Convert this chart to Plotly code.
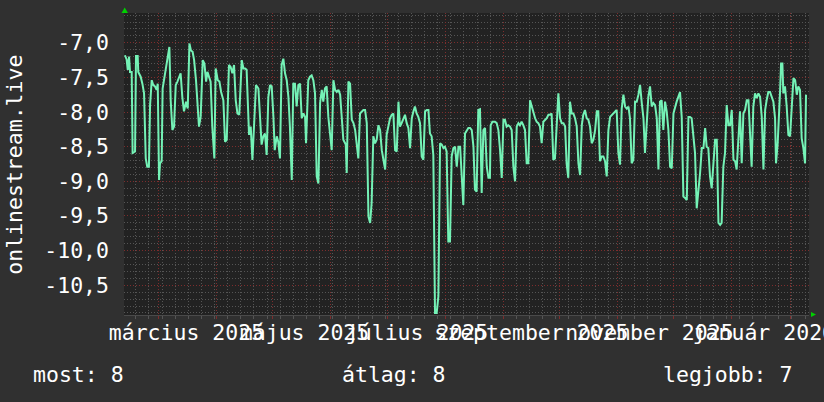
import pandas as pd
import plotly.graph_objects as go

# ---- data (day offsets are days since 2025-03-01) ----
base_date = "2025-03-01"

days = [
    -17.8, -16.9, -16.3, -15.6, -15.1, -14.2, -13.7, -12.4, -11.9, -11.0, -10.7, -9.4, -8.5, -7.6, -6.7, -5.9, -5.0, -4.4,
    -3.5, -2.7, -1.8, -0.9, -0.3, 0.4, 0.9, 1.8, 2.3, 3.2, 4.1, 5.0, 5.9, 6.6, 7.5, 8.4, 9.3, 10.2, 11.0, 11.9, 12.8, 13.7,
    14.8, 15.7, 16.6, 17.4, 18.3, 19.1, 20.1, 20.8, 21.7, 22.6, 23.7, 24.6, 25.5, 26.2, 27.1, 27.9, 28.8, 29.9, 30.6, 31.7,
    32.6, 33.5, 34.7, 35.6, 36.5, 37.7, 38.6, 39.5, 40.4, 41.3, 42.2, 43.2, 44.5, 45.4, 46.3, 47.1, 48.4, 49.3, 50.2, 51.1,
    52.1, 53.4, 54.3, 55.1, 56.0, 56.9, 57.8, 58.7, 59.6, 60.5, 61.4, 62.1, 63.2, 64.0, 64.9, 65.8, 66.7, 67.6, 68.5, 69.4,
    70.2, 71.2, 72.0,
    72.9, 73.8, 74.7, 75.6, 76.5, 77.4, 78.3, 78.8, 79.5, 80.0, 80.9, 81.8, 82.7, 83.6, 84.5, 85.4, 86.3, 87.2, 88.0, 88.9,
    89.8, 90.7, 91.6, 92.5, 93.4, 94.3, 95.2, 96.1, 97.0, 97.8, 98.7, 100.0, 100.5, 101.4, 102.3, 103.2, 104.1, 105.0,
    105.8, 106.7, 107.6, 108.5, 109.4, 110.3, 111.2, 112.1, 113.0, 113.8, 114.7, 115.6, 116.5, 117.4, 118.3, 119.2, 120.1,
    121.0, 121.8, 122.7, 123.6, 124.5, 125.4, 126.3, 127.2, 128.1, 128.9, 129.8, 130.7, 131.6, 132.5, 133.4, 134.3, 135.2,
    136.1, 136.9, 137.8, 138.7, 139.6, 140.5, 141.4, 142.3, 143.2, 144.1, 144.9, 145.8, 146.7, 147.6, 148.5, 149.4, 150.3,
    151.2, 152.1, 152.9, 153.8, 154.7, 155.6, 156.5, 157.4, 158.3, 159.2, 160.1, 161.0, 161.8, 162.7, 163.6, 164.5, 165.4,
    166.3, 167.2, 168.1,
    168.9, 169.8, 170.7, 171.6, 172.5, 173.4, 174.3, 175.2, 176.1, 176.9, 177.3, 178.2, 179.6, 180.5, 181.4, 182.3, 183.2,
    184.1, 184.9, 185.8, 186.7, 187.6, 188.5, 189.4, 190.3, 191.2, 192.1, 192.9, 193.8, 194.7, 195.6, 196.5, 197.4, 198.3,
    199.2, 200.1, 201.0, 201.8, 202.7, 203.6, 204.5, 205.4, 206.3, 207.2, 208.1, 208.9, 209.8, 210.7, 211.6, 212.5, 213.4,
    214.3, 215.2, 216.1, 217.0, 217.8, 218.7, 219.6, 220.5, 221.4, 222.3, 223.2, 224.1, 225.0, 225.9, 226.7, 227.6, 228.5,
    229.4, 230.3, 231.2, 232.1, 233.0, 233.9, 234.7, 235.6, 236.5, 237.4, 238.3, 239.2, 240.1, 241.0, 241.9, 242.7, 243.6,
    244.5, 245.4, 246.3, 247.2, 248.1, 249.0, 249.9, 250.8, 251.6, 252.5, 253.4, 254.3, 255.2, 256.1, 257.0, 257.9, 258.8,
    259.6, 260.5, 261.4,
    262.3, 263.2, 264.1, 265.0, 265.9, 266.8, 267.6, 268.5, 269.4, 270.3, 271.2, 272.1, 273.0, 273.9, 274.8, 275.6, 276.5,
    277.4, 278.3, 279.2, 280.1, 281.0, 281.9, 282.8, 283.6, 284.5, 285.4, 286.3, 287.2, 288.1, 289.0, 289.9, 290.8, 291.7,
    292.5, 293.4, 294.3, 295.2, 296.1, 297.0, 297.9, 298.8, 299.7, 300.5, 301.4, 302.3, 303.2, 304.1, 305.0, 305.9, 306.8,
    307.7, 308.5, 309.4, 310.3, 311.2, 312.1, 313.0, 313.9, 314.8, 315.7, 316.5, 317.4, 318.3, 319.2, 320.1, 321.0, 321.9,
    322.8, 323.7, 324.5, 325.4, 326.3, 327.2, 328.1, 329.0, 329.5, 330.4, 331.1, 331.7, 332.2, 332.9, 333.4, 334.3, 335.2,
    336.1, 337.0, 337.9, 338.8, 339.7, 340.6, 341.4, 342.3, 343.2, 344.1, 345.0, 345.5,
]

values = [
    -7.18, -7.24, -7.39, -7.20, -7.42, -7.42, -8.59, -8.57, -7.19, -7.19, -7.42, -7.49, -7.59, -7.73, -8.67, -8.79, -8.79,
    -7.90, -7.54, -7.61, -7.63, -7.68, -7.59, -8.98, -8.74, -8.71, -7.66, -7.51, -7.39, -7.25, -7.06, -7.83, -8.26, -8.21,
    -7.61, -7.56, -7.49, -7.44, -7.78, -7.99, -7.85, -7.95, -7.01, -7.11, -7.13, -7.25, -7.54, -7.92, -8.21, -8.07, -7.25,
    -7.30, -7.56, -7.42, -7.49, -7.56, -8.21, -8.67, -7.37, -7.54, -7.56, -7.71, -7.83, -8.43, -8.40, -7.32, -7.35, -7.44,
    -7.32, -7.83, -8.02, -8.04, -7.25, -7.37, -7.37, -7.39, -8.33, -8.21, -8.69, -8.21, -7.61, -7.66, -8.07, -8.47, -8.35,
    -8.31, -8.62, -7.78, -7.61, -7.63, -8.07, -8.55, -8.35, -8.43, -8.67, -7.32, -7.23, -7.44, -7.54, -7.78, -8.21, -8.98,
    -7.59,
    -7.59, -7.92, -7.61, -7.59, -8.09, -8.02, -8.07, -8.45, -7.73, -7.54, -7.49, -7.47, -7.54, -7.73, -8.93, -9.03, -7.87,
    -7.68, -7.85, -7.66, -7.63, -8.07, -8.31, -8.55, -7.54, -7.68, -7.71, -7.68, -7.75, -8.07, -8.40, -8.47, -8.88, -7.56,
    -7.59, -8.11, -8.16, -8.26, -8.45, -8.67, -8.02, -7.99, -7.97, -7.97, -8.16, -9.51, -9.60, -9.31, -8.35, -8.45, -8.40,
    -8.19, -8.26, -8.55, -8.67, -8.83, -8.33, -8.21, -8.09, -8.04, -8.02, -8.55, -8.57, -7.85, -8.21, -8.16, -8.09, -8.04,
    -8.16, -8.23, -8.52, -8.09, -7.99, -7.92, -8.02, -8.07, -8.16, -8.64, -8.69, -7.99, -7.97, -7.97, -8.31, -8.35, -8.62,
    -10.90, -10.90, -10.66, -8.45, -8.47, -8.52, -8.50, -8.57, -9.87, -9.87, -8.64, -8.52, -8.50, -8.79, -8.50, -8.50,
    -8.98, -9.34, -8.31, -8.26, -8.23, -8.23, -8.26, -8.50,
    -9.12, -9.15, -7.97, -7.96, -9.17, -8.26, -8.23, -8.79, -8.95, -8.95, -8.19, -8.14, -8.14, -8.16, -8.26, -8.55, -8.95,
    -8.11, -8.11, -8.21, -8.19, -8.21, -8.26, -8.79, -9.00, -8.21, -8.16, -8.19, -8.14, -8.19, -8.26, -8.74, -8.74, -7.83,
    -7.92, -8.04, -8.09, -8.14, -8.16, -8.21, -8.45, -8.14, -8.11, -8.09, -8.04, -8.04, -8.02, -8.69, -8.67, -8.11, -7.73,
    -8.09, -8.16, -8.16, -8.21, -8.74, -8.95, -7.85, -8.02, -8.02, -8.09, -8.21, -8.74, -8.91, -8.19, -8.04, -7.97, -8.09,
    -8.11, -8.21, -8.45, -8.40, -8.26, -7.99, -7.99, -8.71, -8.64, -8.64, -8.71, -8.93, -8.26, -8.07, -8.04, -8.02, -7.99,
    -7.97, -8.59, -8.76, -7.95, -7.75, -7.92, -7.95, -7.92, -8.09, -8.74, -8.69, -7.85, -7.85, -7.75, -7.61, -7.87, -8.09,
    -8.59, -8.16, -7.78,
    -7.63, -7.92, -7.87, -7.90, -8.09, -8.83, -7.85, -7.83, -8.26, -7.85, -7.99, -8.26, -8.79, -8.81, -8.02, -7.92, -7.85,
    -7.78, -7.71, -8.07, -9.22, -9.24, -9.27, -8.07, -8.07, -8.09, -8.35, -8.59, -9.39, -9.17, -8.88, -8.52, -8.52, -8.23,
    -8.50, -8.52, -8.93, -9.10, -8.67, -8.40, -8.40, -9.60, -9.63, -9.60, -8.79, -8.59, -7.90, -8.19, -8.19, -7.97, -8.69,
    -8.71, -8.83, -8.35, -7.99, -8.74, -8.02, -7.97, -7.83, -7.83, -8.35, -8.79, -7.92, -7.73, -7.80, -7.73, -7.78, -8.07,
    -8.83, -7.97, -7.83, -7.71, -7.71, -7.78, -7.85, -8.09, -8.74, -8.45, -7.85, -7.68, -7.30, -7.30, -7.73, -7.63, -7.92,
    -8.33, -8.35, -7.83, -7.51, -7.54, -7.75, -7.63, -7.68, -8.38, -8.52, -8.74, -7.75,
]

x_range_days = [-18.3, 347.1]
ytick_values = [-7.0, -7.5, -8.0, -8.5, -9.0, -9.5, -10.0, -10.5]
ytick_labels = ["-7,0", "-7,5", "-8,0", "-8,5", "-9,0", "-9,5", "-10,0", "-10,5"]
y_range = [-10.93, -6.57]
month_label_dates = ["2025-03-16", "2025-05-18", "2025-07-17", "2025-09-16", "2025-11-18", "2026-01-18"]
month_labels = ["március 2025", "május 2025", "július 2025", "szeptember 2025", "november 2025", "január 2026"]
series_name = "onlinestream.live"
stat_texts = ["most: 8", "átlag: 8", "legjobb: 7"]

# ---- build ----
n = min(len(days), len(values))
base = pd.Timestamp(base_date)
x_dates = [base + pd.to_timedelta(d, unit="D") for d in days[:n]]
x_rng = [base + pd.to_timedelta(d, unit="D") for d in x_range_days]

FONT = "DejaVu Sans Mono"
FS = 21.5
MAJOR = "rgba(125,45,45,1)"
MINOR = "rgba(85,85,85,1)"
DASH = "1px,2px"

fig = go.Figure()
fig.add_trace(go.Scatter(
    x=x_dates, y=values[:n], mode="lines",
    line=dict(color="#74f2b6", width=2),
    name=series_name, showlegend=False, hoverinfo="skip",
))
# empty trace so the label axis (x2) gets drawn
fig.add_trace(go.Scatter(x=[], y=[], xaxis="x2", yaxis="y", showlegend=False, hoverinfo="skip"))

fig.update_layout(
    width=824, height=402,
    margin=dict(l=124, r=15, t=13, b=87, autoexpand=False),
    paper_bgcolor="#303030", plot_bgcolor="#222222",
    font=dict(family=FONT, size=FS, color="#ffffff"),
    showlegend=False,
    xaxis=dict(
        type="date", range=x_rng, automargin=False,
        tick0="2025-03-01", dtick="M1",
        showticklabels=False,
        showgrid=True, gridcolor=MAJOR, griddash=DASH, gridwidth=1,
        ticks="outside", ticklen=3, tickcolor=MAJOR,
        minor=dict(tick0="2025-02-17", dtick=7 * 86400000, showgrid=True,
                   gridcolor=MINOR, griddash=DASH, gridwidth=1,
                   ticks="outside", ticklen=3, tickcolor=MINOR),
        showline=True, linecolor="#4a4a4a", linewidth=1,
        zeroline=False, fixedrange=True,
    ),
    xaxis2=dict(
        type="date", range=x_rng, overlaying="x", anchor="y", side="bottom", automargin=False,
        tickmode="array", tickvals=month_label_dates, ticktext=month_labels, tickangle=0,
        ticklabeloverflow="allow",
        showgrid=False, showline=False, ticks="", zeroline=False,
        tickfont=dict(family=FONT, size=FS, color="#ffffff"),
        ticklabelstandoff=2,
    ),
    yaxis=dict(
        range=y_range, automargin=False,
        tickmode="array", tickvals=ytick_values, ticktext=ytick_labels,
        showgrid=True, gridcolor=MAJOR, griddash=DASH, gridwidth=1,
        minor=dict(dtick=0.1, showgrid=True, gridcolor=MINOR, griddash=DASH, gridwidth=1),
        zeroline=False, showline=False, ticks="",
        tickfont=dict(family=FONT, size=FS, color="#ffffff"),
        ticklabelstandoff=14,
    ),
)

# axis arrows (RRD style)
fig.add_shape(type="path", xref="paper", yref="paper",
              path="M -0.0036 1.0 L 0.0058 1.0 L 0.0010 1.0182 Z",
              fillcolor="#00d000", line=dict(width=0))
fig.add_shape(type="path", xref="paper", yref="paper",
              path="M 1.0029 0.0099 L 1.0029 -0.0066 L 1.0102 0.0017 Z",
              fillcolor="#00d000", line=dict(width=0))

# y title
fig.add_annotation(text=series_name, xref="paper", yref="paper", x=-0.159, y=0.498,
                   textangle=-90, showarrow=False, xanchor="center", yanchor="middle",
                   font=dict(family=FONT, size=FS, color="#ffffff"))

# stats line
stat_x = [-0.1358, 0.3153, 0.784]
for t, sx in zip(stat_texts, stat_x):
    fig.add_annotation(text=t, xref="paper", yref="paper", x=sx, y=-0.197,
                       showarrow=False, xanchor="left", yanchor="middle",
                       font=dict(family=FONT, size=FS, color="#ffffff"))

fig.write_html(
    "out.html",
    config={"displayModeBar": False},
    post_script="document.body.style.margin='0';document.body.style.padding='0';"
                "document.body.style.background='#303030';document.body.style.overflow='hidden';",
)
